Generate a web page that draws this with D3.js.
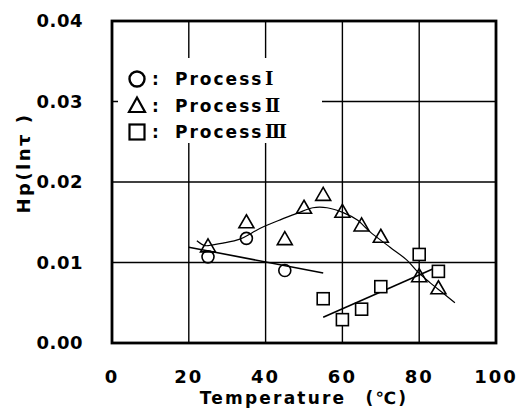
<!DOCTYPE html>
<html>
<head>
<meta charset="utf-8">
<script src="https://cdn.jsdelivr.net/npm/d3@7"></script>
<style>
  body { margin: 0; background: #fff; }
  text { font-family: "DejaVu Sans", "Noto Sans CJK JP", sans-serif; font-weight: bold; fill: #000; }
</style>
</head>
<body>
<div id="chart"></div>
<script>
// data
const xTicks = [0, 20, 40, 60, 80, 100];
const yTicks = [0, 0.01, 0.02, 0.03, 0.04];

const p1Temp = [25, 35, 45];
const p1Hp = [0.0107, 0.0130, 0.0090];

const p2Temp = [25, 35, 45, 50, 55, 60, 65, 70, 80, 85];
const p2Hp = [0.0120, 0.0150, 0.0129, 0.0168, 0.0184, 0.0163, 0.0146, 0.0132, 0.0083, 0.0068];

const p3Temp = [55, 60, 65, 70, 80, 85];
const p3Hp = [0.0055, 0.0029, 0.0042, 0.0070, 0.0110, 0.0089];

// fitted lines
const fit1Temp = [20, 55];
const fit1Hp = [0.0119, 0.0087];
const fit3Temp = [55, 85];
const fit3Hp = [0.0032, 0.0095];

// smoothed curve for process II
const curveTemp = [22.1, 24.2, 26.3, 28.9, 33.3, 36.5, 39.3, 43.8, 48.2, 52.3, 56.0, 60.2, 63.8, 67.2, 72.4, 76.8, 79.7, 82.8, 86.2, 89.3];
const curveHp = [0.0127, 0.0121, 0.0122, 0.0124, 0.0129, 0.0137, 0.0144, 0.0153, 0.0161, 0.0168, 0.0168, 0.0162, 0.0153, 0.0138, 0.0119, 0.0103, 0.0088, 0.0075, 0.0062, 0.0050];

const legendNames = ["Process", "Process", "Process"];
const legendNumerals = ["Ⅰ", "Ⅱ", "Ⅲ"];

{
    const width = 517, height = 417;
    const margin = {left: 112, top: 21, right: 21, bottom: 74};
    const w = width - margin.left - margin.right;
    const h = height - margin.top - margin.bottom;

    const svg = d3.select("#chart").append("svg")
        .attr("width", width)
        .attr("height", height);

    const g = svg.append("g")
        .attr("transform", `translate(${margin.left},${margin.top})`);

    const x = d3.scaleLinear().domain([0, 100]).range([0, w]);
    const y = d3.scaleLinear().domain([0, 0.04]).range([h, 0]);

    // grid
    g.selectAll(".vgrid")
        .data(xTicks.slice(1, -1))
        .enter().append("line")
        .attr("x1", d => x(d)).attr("x2", d => x(d))
        .attr("y1", 0).attr("y2", h)
        .attr("stroke", "#000").attr("stroke-width", 1.4);

    g.selectAll(".hgrid")
        .data(yTicks.slice(1, -1))
        .enter().append("line")
        .attr("x1", 0).attr("x2", w)
        .attr("y1", d => y(d)).attr("y2", d => y(d))
        .attr("stroke", "#000").attr("stroke-width", 1.4);

    // legend background covers grid
    g.append("rect")
        .attr("x", 6).attr("y", 37)
        .attr("width", 204).attr("height", 85)
        .attr("fill", "#fff");

    // frame
    g.append("rect")
        .attr("x", 0).attr("y", 0)
        .attr("width", w).attr("height", h)
        .attr("fill", "none")
        .attr("stroke", "#000").attr("stroke-width", 2.8);

    // tick labels
    g.selectAll(".xlab")
        .data(xTicks)
        .enter().append("text")
        .attr("x", d => x(d))
        .attr("y", h + 40)
        .attr("text-anchor", "middle")
        .style("font-size", "18px")
        .style("letter-spacing", "2px")
        .text(d => d);

    g.selectAll(".ylab")
        .data(yTicks)
        .enter().append("text")
        .attr("x", -29)
        .attr("y", d => y(d))
        .attr("dy", "0.36em")
        .attr("text-anchor", "end")
        .style("font-size", "18px")
        .style("letter-spacing", "0.5px")
        .text(d => d3.format(".2f")(d));

    svg.append("text")
        .attr("x", margin.left + w / 2)
        .attr("y", 404)
        .attr("text-anchor", "middle")
        .style("font-size", "17px")
        .style("letter-spacing", "2.2px")
        .text("Temperature　(℃)");

    svg.append("text")
        .attr("transform", "translate(30,163) rotate(-90)")
        .attr("text-anchor", "middle")
        .style("font-size", "18px")
        .style("letter-spacing", "2.5px")
        .text("Hp(lnτ )");

    // fitted lines
    const line = d3.line().x(d => x(d[0])).y(d => y(d[1]));
    g.append("path")
        .datum(d3.zip(fit1Temp, fit1Hp))
        .attr("d", line)
        .attr("fill", "none").attr("stroke", "#000").attr("stroke-width", 1.6);
    g.append("path")
        .datum(d3.zip(fit3Temp, fit3Hp))
        .attr("d", line)
        .attr("fill", "none").attr("stroke", "#000").attr("stroke-width", 1.6);

    g.append("path")
        .datum(d3.zip(curveTemp, curveHp))
        .attr("d", line.curve(d3.curveCatmullRom))
        .attr("fill", "none").attr("stroke", "#000").attr("stroke-width", 1.2);

    // markers
    const triangle = "M0,-7.5L7.5,5.5L-7.5,5.5Z";

    g.selectAll(".p1")
        .data(d3.zip(p1Temp, p1Hp))
        .enter().append("circle")
        .attr("cx", d => x(d[0])).attr("cy", d => y(d[1]))
        .attr("r", 6)
        .attr("fill", "none").attr("stroke", "#000").attr("stroke-width", 1.6);

    g.selectAll(".p2")
        .data(d3.zip(p2Temp, p2Hp))
        .enter().append("path")
        .attr("transform", d => `translate(${x(d[0])},${y(d[1])})`)
        .attr("d", triangle)
        .attr("fill", "none").attr("stroke", "#000").attr("stroke-width", 1.6);

    g.selectAll(".p3")
        .data(d3.zip(p3Temp, p3Hp))
        .enter().append("rect")
        .attr("x", d => x(d[0]) - 6).attr("y", d => y(d[1]) - 6)
        .attr("width", 12).attr("height", 12)
        .attr("fill", "#fff").attr("stroke", "#000").attr("stroke-width", 1.6);

    // legend
    const legend = g.append("g").attr("transform", "translate(25,58)");
    legendNames.forEach((name, i) => {
        const row = legend.append("g").attr("transform", `translate(0,${i * 26.5})`);
        if (i === 0) {
            row.append("circle").attr("r", 7.5)
                .attr("fill", "none").attr("stroke", "#000").attr("stroke-width", 2.4);
        } else if (i === 1) {
            row.append("path").attr("d", "M0,-8L8,6.5L-8,6.5Z")
                .attr("fill", "none").attr("stroke", "#000").attr("stroke-width", 2.2);
        } else {
            row.append("rect").attr("x", -7.5).attr("y", -7.5)
                .attr("width", 15).attr("height", 15)
                .attr("fill", "none").attr("stroke", "#000").attr("stroke-width", 2.2);
        }
        row.append("text")
            .attr("x", 15)
            .attr("dy", "0.36em")
            .style("font-size", "17px")
            .text(":");
        row.append("text")
            .attr("x", 38)
            .attr("dy", "0.36em")
            .style("font-size", "17px")
            .style("letter-spacing", "2px")
            .text(name);
        row.append("text")
            .attr("x", 128)
            .attr("dy", "0.36em")
            .style("font-family", "'DejaVu Serif', 'Noto Sans CJK JP'")
            .style("font-size", "18px")
            .text(legendNumerals[i]);
    });
}
</script>
</body>
</html>
